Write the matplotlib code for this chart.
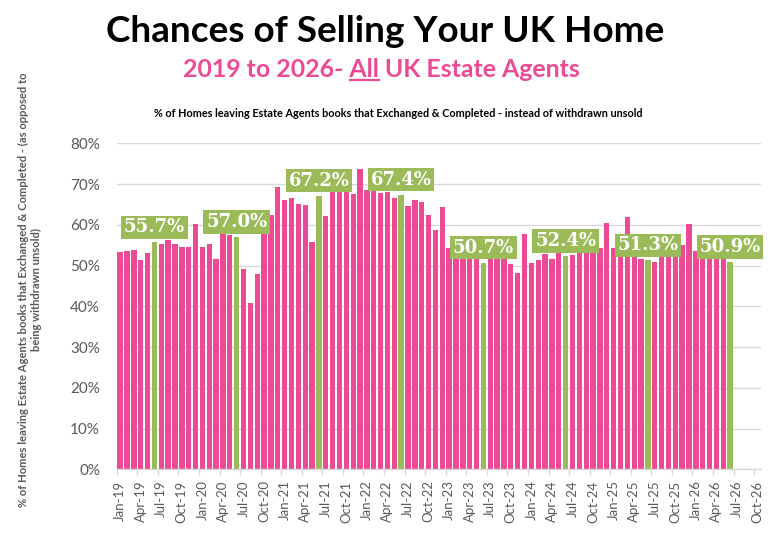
import matplotlib
matplotlib.use("Agg")
import matplotlib.pyplot as plt
from matplotlib.ticker import FixedLocator, FuncFormatter
import numpy as np

months = ["Jan", "Feb", "Mar", "Apr", "May", "Jun", "Jul", "Aug", "Sep", "Oct", "Nov", "Dec"]
years = ["19", "20", "21", "22", "23", "24", "25", "26"]
categories = [f"{m}-{y}" for y in years for m in months][:94]   # Jan-19 .. Oct-26 on axis

values = [
    53.3, 53.7, 53.8, 51.3, 53.1, 55.7, 55.2, 56.4, 55.3, 54.6, 54.6, 60.2,   # 2019
    54.6, 55.3, 51.5, 57.8, 57.6, 57.0, 49.2, 40.8, 47.9, 59.5, 62.3, 69.4,   # 2020
    66.2, 66.5, 65.1, 64.8, 55.7, 67.2, 62.2, 68.2, 68.5, 68.3, 67.5, 73.6,   # 2021
    68.5, 68.4, 67.8, 68.0, 66.7, 67.4, 64.6, 66.1, 65.7, 62.3, 58.8, 64.4,   # 2022
    54.4, 52.5, 52.0, 52.3, 51.8, 50.7, 51.5, 52.0, 51.7, 50.3, 48.3, 57.7,   # 2023
    50.7, 51.3, 52.8, 51.5, 53.5, 52.4, 52.6, 53.3, 53.5, 53.5, 54.2, 60.4,   # 2024
    54.3, 53.5, 62.0, 53.0, 51.7, 51.3, 50.9, 52.0, 52.3, 52.5, 55.1, 60.2,   # 2025
    53.7, 52.0, 52.0, 52.0, 52.0, 50.9,                                       # 2026
]
highlight_months = ["Jun-19", "Jun-20", "Jun-21", "Jun-22", "Jun-23", "Jun-24", "Jun-25", "Jun-26"]
highlight_labels = ["55.7%", "57.0%", "67.2%", "67.4%", "50.7%", "52.4%", "51.3%", "50.9%"]

PINK = "#EC4A95"
GREEN = "#9BBB59"
GREY = "#595959"
SANS = ["Lato", "DejaVu Sans"]
SLAB = ["DejaVu Serif Condensed", "DejaVu Serif"]

plt.rcParams["font.family"] = SANS

fig = plt.figure(figsize=(7.71, 5.35), dpi=100)
ax = fig.add_axes([0.1514, 0.1228, 0.987 - 0.1514, 0.732 - 0.1228])

x = np.arange(len(values))
vals = np.array(values) / 100.0
colors = [GREEN if categories[i] in highlight_months else PINK for i in range(len(values))]
ax.bar(x, vals, width=0.78, color=colors, zorder=2)

ax.set_xlim(-0.5, len(categories) - 0.5)
ax.set_ylim(0, 0.8)
ax.yaxis.set_major_locator(FixedLocator(np.arange(0, 0.81, 0.1)))
ax.yaxis.set_major_formatter(FuncFormatter(lambda v, p: f"{v*100:.0f}%"))
ax.grid(axis="y", color="#D9D9D9", linewidth=1.0, zorder=0)
ax.set_axisbelow(True)
for s in ["top", "right", "left"]:
    ax.spines[s].set_visible(False)
ax.spines["bottom"].set_color("#D9D9D9")
ax.spines["bottom"].set_linewidth(1.0)
ax.spines["bottom"].set_zorder(3)
ax.tick_params(axis="y", length=0, pad=12, labelsize=11, labelcolor=GREY)

major_pos = list(range(0, len(categories), 3))
ax.set_xticks(major_pos)
ax.set_xticklabels([categories[i] for i in major_pos], rotation=90)
ax.set_xticks([p - 0.5 for p in major_pos], minor=True)
ax.tick_params(axis="x", which="major", length=0, pad=8, labelsize=9.5, labelcolor=GREY)
ax.tick_params(axis="x", which="minor", length=4, color="#D9D9D9", width=1.0)

for m, lab in zip(highlight_months, highlight_labels):
    i = categories.index(m)
    ax.annotate(lab, xy=(i, vals[i]), xytext=(0, 4.3), textcoords="offset points",
                ha="center", va="bottom", color="white", fontsize=13, fontweight="bold",
                family=SLAB, zorder=5,
                bbox=dict(boxstyle="square,pad=0.15", facecolor=GREEN, edgecolor="none"))

# Titles
fig.text(0.5, 0.9215, "Chances of Selling Your UK Home", ha="center", va="baseline",
         fontsize=26.6, fontweight="bold", color="black")

sub_prefix = "2019 to 2026- "
sub_under = "All"
sub_rest = " UK Estate Agents"
sub_full = sub_prefix + sub_under + sub_rest
sub_y = 0.856
sub_kw = dict(fontsize=17.9, fontweight="bold", color=PINK, va="baseline")
t_full = fig.text(0.495, sub_y, sub_full, ha="center", **sub_kw)
fig.canvas.draw()
r = fig.canvas.get_renderer()
bb_full = t_full.get_window_extent(r)
tmp = fig.text(0, 0, sub_prefix.rstrip() + " ", **sub_kw)
tmp2 = fig.text(0, 0, sub_prefix + sub_under, **sub_kw)
w_pre = tmp.get_window_extent(r).width
w_pre_all = tmp2.get_window_extent(r).width
tmp.remove(); tmp2.remove()
x0 = (bb_full.x0 + w_pre) / fig.bbox.width
x1 = (bb_full.x0 + w_pre_all) / fig.bbox.width
uy = sub_y - 3.0 / fig.bbox.height
fig.add_artist(plt.Line2D([x0, x1], [uy, uy], color=PINK, linewidth=1.6, transform=fig.transFigure))

fig.text(0.516, 0.781, "% of Homes leaving Estate Agents books that Exchanged & Completed - instead of withdrawn unsold",
         ha="center", va="baseline", fontsize=7.8, fontweight="bold", color="black")

fig.text(0.039, 0.458, "% of Homes leaving Estate Agents books that Exchanged & Completed - (as opposed to\nbeing withdrawn unsold)",
         rotation=90, ha="center", va="center", multialignment="center",
         fontsize=8.1, fontweight="bold", color=GREY, linespacing=1.2)

fig.savefig("out.png", dpi=100)
